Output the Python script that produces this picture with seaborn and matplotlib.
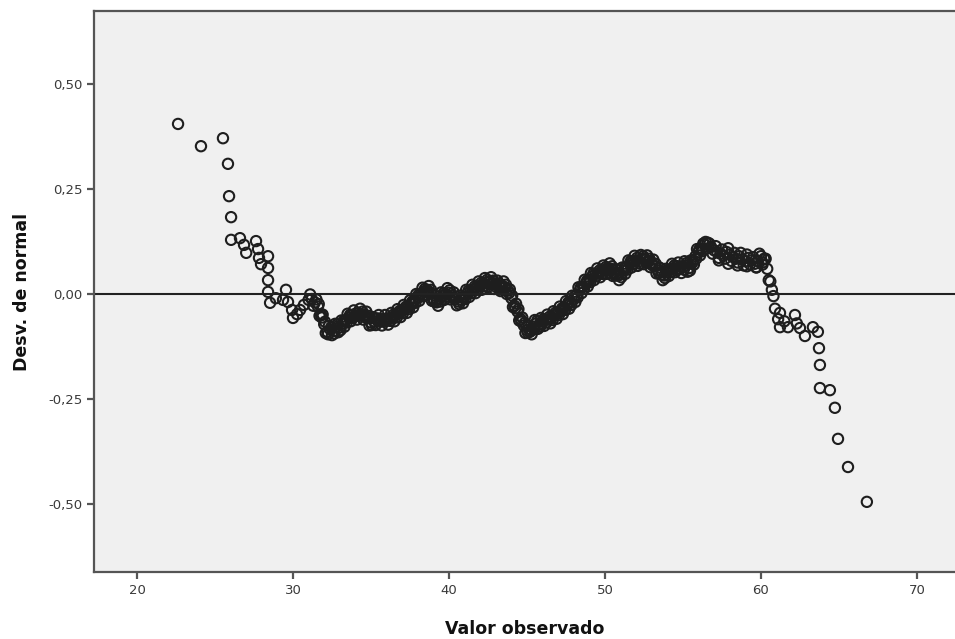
import numpy as np
import pandas as pd
import seaborn as sns
import matplotlib.pyplot as plt
from matplotlib.ticker import FuncFormatter

# sparse tail on the left (observed value, deviation from normal)
left_x = [22.63, 24.10, 25.51, 25.83, 25.90, 26.03, 26.03, 26.60, 26.86, 27.00,
          27.63, 27.76, 27.82, 27.95, 28.40, 28.40, 28.40, 28.40, 28.53, 28.90,
          29.55, 29.36, 29.68, 29.94, 30.00, 30.26, 30.45, 30.70]
left_y = [0.405, 0.352, 0.371, 0.310, 0.233, 0.183, 0.129, 0.133, 0.117, 0.098,
          0.126, 0.107, 0.086, 0.071, 0.090, 0.062, 0.033, 0.005, -0.021, -0.010,
          0.010, -0.014, -0.019, -0.038, -0.057, -0.048, -0.038, -0.026]

# dense middle band, centre row
mid_x = [31.0, 31.2, 31.4, 31.6, 31.8, 32.0, 32.2, 32.4, 32.6, 32.8,
         33.0, 33.2, 33.4, 33.6, 33.8, 34.0, 34.2, 34.4, 34.6, 34.8,
         35.0, 35.2, 35.4, 35.6, 35.8, 36.0, 36.2, 36.4, 36.6, 36.8,
         37.0, 37.2, 37.4, 37.6, 37.8, 38.0, 38.2, 38.4, 38.6, 38.8,
         39.0, 39.2, 39.4, 39.6, 39.8, 40.0, 40.2, 40.4, 40.6, 40.8,
         41.0, 41.2, 41.4, 41.6, 41.8, 42.0, 42.2, 42.4, 42.6, 42.8,
         43.0, 43.2, 43.4, 43.6, 43.8, 44.0, 44.2, 44.4, 44.6, 44.8,
         45.0, 45.2, 45.4, 45.6, 45.8, 46.0, 46.2, 46.4, 46.6, 46.8,
         47.0, 47.2, 47.4, 47.6, 47.8, 48.0, 48.2, 48.4, 48.6, 48.8,
         49.0, 49.2, 49.4, 49.6, 49.8, 50.0, 50.2, 50.4, 50.6, 50.8,
         51.0, 51.2, 51.4, 51.6, 51.8, 52.0, 52.2, 52.4, 52.6, 52.8,
         53.0, 53.2, 53.4, 53.6, 53.8, 54.0, 54.2, 54.4, 54.6, 54.8,
         55.0, 55.2, 55.4, 55.6, 55.8, 56.0, 56.2, 56.4, 56.6, 56.8,
         57.0, 57.2, 57.4, 57.6, 57.8, 58.0, 58.2, 58.4, 58.6, 58.8,
         59.0, 59.2, 59.4, 59.6, 59.8, 60.0, 60.2, 60.4, 60.6, 60.8]
mid_y = [-0.014, -0.012, -0.020, -0.030, -0.050, -0.072, -0.090, -0.085, -0.088, -0.078,
         -0.080, -0.070, -0.062, -0.056, -0.050, -0.052, -0.046, -0.048, -0.050, -0.058,
         -0.068, -0.065, -0.058, -0.066, -0.060, -0.064, -0.058, -0.055, -0.050, -0.046,
         -0.040, -0.036, -0.030, -0.024, -0.015, -0.008, 0.000, 0.006, 0.010, 0.004,
         -0.012, -0.020, -0.012, -0.004, 0.000, 0.003, -0.004, -0.012, -0.018, -0.014,
         -0.006, 0.002, 0.008, 0.012, 0.016, 0.020, 0.024, 0.028, 0.030, 0.026,
         0.022, 0.018, 0.020, 0.016, 0.008, -0.010, -0.028, -0.042, -0.060, -0.075,
         -0.086, -0.090, -0.078, -0.070, -0.072, -0.066, -0.062, -0.060, -0.056, -0.050,
         -0.044, -0.040, -0.032, -0.026, -0.020, -0.012, -0.002, 0.010, 0.018, 0.026,
         0.034, 0.042, 0.048, 0.050, 0.054, 0.058, 0.062, 0.060, 0.050, 0.044,
         0.046, 0.056, 0.064, 0.072, 0.078, 0.080, 0.078, 0.084, 0.082, 0.078,
         0.074, 0.066, 0.056, 0.046, 0.044, 0.052, 0.058, 0.062, 0.066, 0.060,
         0.064, 0.068, 0.062, 0.074, 0.090, 0.100, 0.108, 0.118, 0.122, 0.112,
         0.104, 0.100, 0.096, 0.092, 0.100, 0.094, 0.088, 0.084, 0.090, 0.082,
         0.078, 0.086, 0.080, 0.072, 0.078, 0.090, 0.084, 0.060, 0.030, -0.005]

# dense middle band, points above / below the centre row
mid2_x = [31.1, 31.3, 31.5, 31.7, 31.9, 32.1, 32.3, 32.5, 32.7, 32.9,
          33.1, 33.3, 33.5, 33.7, 33.9, 34.1, 34.3, 34.5, 34.7, 34.9,
          35.1, 35.3, 35.5, 35.7, 35.9, 36.1, 36.3, 36.5, 36.7, 36.9,
          37.1, 37.3, 37.5, 37.7, 37.9, 38.1, 38.3, 38.5, 38.7, 38.9,
          39.1, 39.3, 39.5, 39.7, 39.9, 40.1, 40.3, 40.5, 40.7, 40.9,
          41.1, 41.3, 41.5, 41.7, 41.9, 42.1, 42.3, 42.5, 42.7, 42.9,
          43.1, 43.3, 43.5, 43.7, 43.9, 44.1, 44.3, 44.5, 44.7, 44.9,
          45.1, 45.3, 45.5, 45.7, 45.9, 46.1, 46.3, 46.5, 46.7, 46.9,
          47.1, 47.3, 47.5, 47.7, 47.9, 48.1, 48.3, 48.5, 48.7, 48.9,
          49.1, 49.3, 49.5, 49.7, 49.9, 50.1, 50.3, 50.5, 50.7, 50.9,
          51.1, 51.3, 51.5, 51.7, 51.9, 52.1, 52.3, 52.5, 52.7, 52.9,
          53.1, 53.3, 53.5, 53.7, 53.9, 54.1, 54.3, 54.5, 54.7, 54.9,
          55.1, 55.3, 55.5, 55.7, 55.9, 56.1, 56.3, 56.5, 56.7, 56.9,
          57.1, 57.3, 57.5, 57.7, 57.9, 58.1, 58.3, 58.5, 58.7, 58.9,
          59.1, 59.3, 59.5, 59.7, 59.9, 60.1, 60.3, 60.5, 60.7]
mid2_y = [-0.001, -0.028, -0.013, -0.052, -0.049, -0.093, -0.076, -0.098, -0.071, -0.091,
          -0.063, -0.078, -0.047, -0.065, -0.039, -0.061, -0.035, -0.061, -0.042, -0.075,
          -0.055, -0.074, -0.050, -0.075, -0.050, -0.073, -0.045, -0.065, -0.036, -0.055,
          -0.026, -0.045, -0.015, -0.032, 0.000, -0.016, 0.015, -0.004, 0.019, -0.016,
          -0.004, -0.028, 0.004, -0.014, 0.014, -0.013, 0.004, -0.027, -0.004, -0.022,
          0.010, -0.007, 0.022, 0.002, 0.030, 0.010, 0.038, 0.017, 0.040, 0.012,
          0.032, 0.007, 0.030, 0.000, 0.011, -0.031, -0.023, -0.063, -0.056, -0.093,
          -0.076, -0.096, -0.062, -0.083, -0.057, -0.076, -0.049, -0.070, -0.041, -0.059,
          -0.030, -0.048, -0.017, -0.035, -0.004, -0.019, 0.016, 0.002, 0.034, 0.018,
          0.050, 0.033, 0.061, 0.040, 0.068, 0.048, 0.073, 0.043, 0.059, 0.033,
          0.063, 0.048, 0.080, 0.063, 0.091, 0.067, 0.093, 0.071, 0.092, 0.064,
          0.082, 0.049, 0.063, 0.033, 0.060, 0.043, 0.072, 0.052, 0.075, 0.050,
          0.078, 0.053, 0.080, 0.070, 0.107, 0.092, 0.120, 0.108, 0.120, 0.096,
          0.114, 0.086, 0.106, 0.084, 0.109, 0.079, 0.098, 0.075, 0.098, 0.068,
          0.094, 0.071, 0.088, 0.063, 0.096, 0.075, 0.084, 0.033, 0.010]

# dense middle band, extra points close to the centre row (solid part)
mid3_x = [31.65, 31.85, 32.05, 32.25, 32.45, 32.65, 32.85, 33.05, 33.25, 33.45,
          33.65, 33.85, 34.05, 34.25, 34.45, 34.65, 34.85, 35.05, 35.25, 35.45,
          35.65, 35.85, 36.05, 36.25, 36.45, 36.65, 36.85, 37.05, 37.25, 37.45,
          37.65, 37.85, 38.05, 38.25, 38.45, 38.65, 38.85, 39.05, 39.25, 39.45,
          39.65, 39.85, 40.05, 40.25, 40.45, 40.65, 40.85, 41.05, 41.25, 41.45,
          41.65, 41.85, 42.05, 42.25, 42.45, 42.65, 42.85, 43.05, 43.25, 43.45,
          43.65, 43.85, 44.05, 44.25, 44.45, 44.65, 44.85, 45.05, 45.25, 45.45,
          45.65, 45.85, 46.05, 46.25, 46.45, 46.65, 46.85, 47.05, 47.25, 47.45,
          47.65, 47.85, 48.05, 48.25, 48.45, 48.65, 48.85, 49.05, 49.25, 49.45,
          49.65, 49.85, 50.05, 50.25, 50.45, 50.65, 50.85, 51.05, 51.25, 51.45,
          51.65, 51.85, 52.05, 52.25, 52.45, 52.65, 52.85, 53.05, 53.25, 53.45,
          53.65, 53.85, 54.05, 54.25, 54.45, 54.65, 54.85, 55.05, 55.25, 55.45,
          55.65, 55.85, 56.05, 56.25, 56.45]
mid3_y = [-0.024, -0.056, -0.066, -0.096, -0.079, -0.094, -0.072, -0.086, -0.064, -0.068,
          -0.050, -0.056, -0.046, -0.052, -0.042, -0.056, -0.052, -0.074, -0.059, -0.064,
          -0.060, -0.066, -0.058, -0.064, -0.049, -0.056, -0.040, -0.046, -0.030, -0.036,
          -0.018, -0.021, -0.002, -0.006, 0.012, 0.004, 0.010, -0.018, -0.014, -0.018,
          0.002, -0.006, 0.009, -0.010, -0.006, -0.024, -0.008, -0.012, 0.008, 0.002,
          0.018, 0.010, 0.026, 0.018, 0.034, 0.024, 0.032, 0.016, 0.024, 0.014,
          0.022, 0.002, -0.004, -0.034, -0.036, -0.066, -0.069, -0.092, -0.084, -0.084,
          -0.064, -0.078, -0.060, -0.068, -0.054, -0.062, -0.044, -0.050, -0.034, -0.038,
          -0.020, -0.026, -0.006, -0.008, 0.016, 0.012, 0.032, 0.028, 0.048, 0.042,
          0.056, 0.048, 0.064, 0.056, 0.066, 0.044, 0.050, 0.040, 0.062, 0.058,
          0.078, 0.072, 0.086, 0.072, 0.090, 0.076, 0.084, 0.068, 0.072, 0.050,
          0.052, 0.038, 0.058, 0.052, 0.068, 0.060, 0.066, 0.058, 0.074, 0.056,
          0.080, 0.084, 0.106, 0.102, 0.124]

# loose rings under the band near the upper end
upper_x = [57.3, 57.9, 58.5, 59.1, 59.7, 60.1]
upper_y = [0.080, 0.072, 0.068, 0.066, 0.064, 0.070]

# sparse tail on the right
right_x = [60.90, 61.10, 61.22, 61.22, 61.50, 61.73, 62.18, 62.30, 62.50, 62.82,
           63.33, 63.65, 63.72, 63.78, 63.78, 64.42, 64.74, 64.94, 65.58, 66.79]
right_y = [-0.035, -0.060, -0.045, -0.079, -0.065, -0.079, -0.050, -0.070, -0.081, -0.100,
           -0.079, -0.090, -0.129, -0.169, -0.224, -0.229, -0.271, -0.345, -0.412, -0.495]

df = pd.DataFrame({
    "observado": left_x + mid_x + mid2_x + mid3_x + upper_x + right_x,
    "desv": left_y + mid_y + mid2_y + mid3_y + upper_y + right_y,
})

sns.set_style("white")
plt.rcParams['font.family'] = ['DejaVu Sans']

fig = plt.figure(figsize=(9.55, 6.39), dpi=100)
ax = fig.add_axes([0.0984, 0.1049, 0.9016, 0.8779])
ax.set_facecolor("#f0f0f0")

sns.scatterplot(data=df, x="observado", y="desv", ax=ax, marker="o", s=55,
                facecolor="none", edgecolor="#1e1e1e", linewidth=1.5)

ax.axhline(0, color="#222222", lw=1.5, zorder=1)

ax.set_xlim(17.24, 72.44)
ax.set_ylim(-0.662, 0.674)
ax.set_xticks([20, 30, 40, 50, 60, 70])
ax.set_yticks([-0.5, -0.25, 0.0, 0.25, 0.5])
ax.yaxis.set_major_formatter(FuncFormatter(lambda v, p: f"{v:.2f}".replace(".", ",")))

for side in ["left", "bottom", "top"]:
    ax.spines[side].set_color("#555555")
    ax.spines[side].set_linewidth(1.6)
ax.spines["right"].set_visible(False)

ax.tick_params(axis="both", direction="out", length=5, width=1.6, color="#555555",
               labelsize=9.5, labelcolor="#3a3a3a", left=True, bottom=True)

ax.set_xlabel("Valor observado", fontsize=12.5, fontweight="bold", color="#111111", labelpad=17)
ax.set_ylabel("Desv. de normal", fontsize=12.5, fontweight="bold", color="#111111", labelpad=12)

fig.savefig("out.png", dpi=100)
